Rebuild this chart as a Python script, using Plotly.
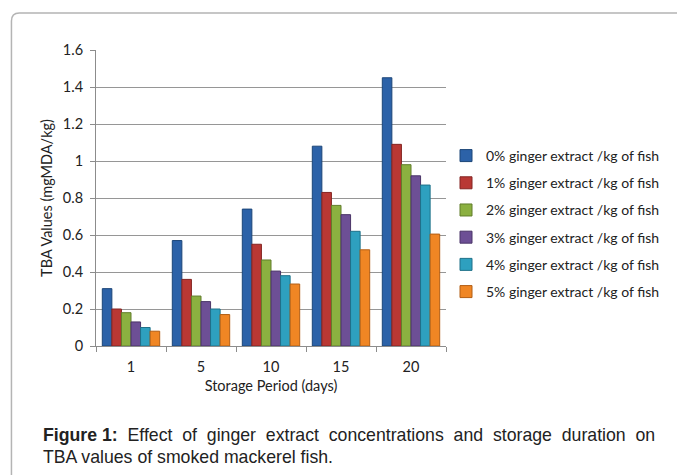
import plotly.graph_objects as go

days = ["1", "5", "10", "15", "20"]
series_names = [
    "0% ginger extract /kg of fish",
    "1% ginger extract /kg of fish",
    "2% ginger extract /kg of fish",
    "3% ginger extract /kg of fish",
    "4% ginger extract /kg of fish",
    "5% ginger extract /kg of fish",
]
ginger_0 = [0.31, 0.57, 0.74, 1.08, 1.45]
ginger_1 = [0.20, 0.36, 0.55, 0.83, 1.09]
ginger_2 = [0.18, 0.27, 0.465, 0.76, 0.98]
ginger_3 = [0.13, 0.24, 0.405, 0.71, 0.92]
ginger_4 = [0.10, 0.20, 0.38, 0.62, 0.87]
ginger_5 = [0.08, 0.17, 0.335, 0.52, 0.605]
values = [ginger_0, ginger_1, ginger_2, ginger_3, ginger_4, ginger_5]
y_ticks = [0, 0.2, 0.4, 0.6, 0.8, 1, 1.2, 1.4, 1.6]

colors = ["#2C62A8", "#B93834", "#8BB040", "#6D4F95", "#2EA0BF", "#F08624"]
edges = ["#1C4678", "#842522", "#617D2A", "#4B3568", "#1F7189", "#B25E14"]

fig = go.Figure()
for i, (name, vals) in enumerate(zip(series_names, values)):
    fig.add_trace(go.Bar(
        x=days, y=vals, name=name, legendgroup=f"g{i}",
        marker=dict(color=colors[i], line=dict(color=edges[i], width=1)),
    ))

font_fam = "Lato, 'DejaVu Sans', sans-serif"
axis_size = 14.5
fig.update_layout(
    width=677, height=475,
    paper_bgcolor="white", plot_bgcolor="white",
    margin=dict(l=96, r=225, t=50, b=129),
    barmode="group", bargap=0.18, bargroupgap=0,
    font=dict(family=font_fam, size=axis_size, color="#222222"),
    showlegend=True,
    legend=dict(
        x=1.0, y=0.696, xanchor="left", yanchor="top",
        traceorder="grouped", tracegroupgap=6,
        font=dict(family=font_fam, size=14, color="#222222"),
        bgcolor="rgba(0,0,0,0)",
    ),
    xaxis=dict(
        showline=True, linecolor="#8c8c8c", linewidth=1,
        ticks="outside", ticklen=5, tickcolor="#8c8c8c", tickson="boundaries",
        ticklabelstandoff=8,
        tickfont=dict(size=axis_size), showgrid=False,
        title=dict(text="Storage Period (days)", font=dict(size=axis_size), standoff=6),
    ),
    yaxis=dict(
        range=[0, 1.6], tickvals=y_ticks,
        showline=True, linecolor="#8c8c8c", linewidth=1,
        ticks="outside", ticklen=5, tickcolor="#8c8c8c",
        ticklabelstandoff=4,
        showgrid=True, gridcolor="#969696", gridwidth=1,
        zeroline=False, tickfont=dict(size=axis_size),
        title=dict(text="TBA Values (mgMDA/kg)", font=dict(size=axis_size), standoff=6),
    ),
)

# outer frame with rounded top-left corner (paper coords)
def px_x(p):
    return (p - 96) / 356.0

def px_y(p):
    return (346 - p) / 296.0

r = 8
path = (f"M {px_x(10)},{px_y(480)} L {px_x(10)},{px_y(13 + r)} "
        f"Q {px_x(10)},{px_y(13)} {px_x(10 + r)},{px_y(13)} "
        f"L {px_x(700)},{px_y(13)}")
fig.add_shape(type="path", path=path, xref="paper", yref="paper",
              line=dict(color="#b4b4b4", width=1.5))

cap_font = dict(family="'Liberation Sans', Arial, sans-serif", size=17.7, color="#222222")
line1 = "<b>Figure 1:</b> Effect of ginger extract concentrations and storage duration on"
line1 = line1.replace(" ", "&nbsp;&nbsp;").replace("<b>Figure&nbsp;&nbsp;1:</b>", "<b>Figure 1:</b>")
fig.add_annotation(
    xref="paper", yref="paper", x=px_x(40), y=px_y(435), xanchor="left", yanchor="middle",
    text=line1, showarrow=False, font=cap_font, align="left",
)
fig.add_annotation(
    xref="paper", yref="paper", x=px_x(40), y=px_y(457), xanchor="left", yanchor="middle",
    text="TBA values of smoked mackerel fish.",
    showarrow=False, font=cap_font, align="left",
)

fig.write_html("out.html")
